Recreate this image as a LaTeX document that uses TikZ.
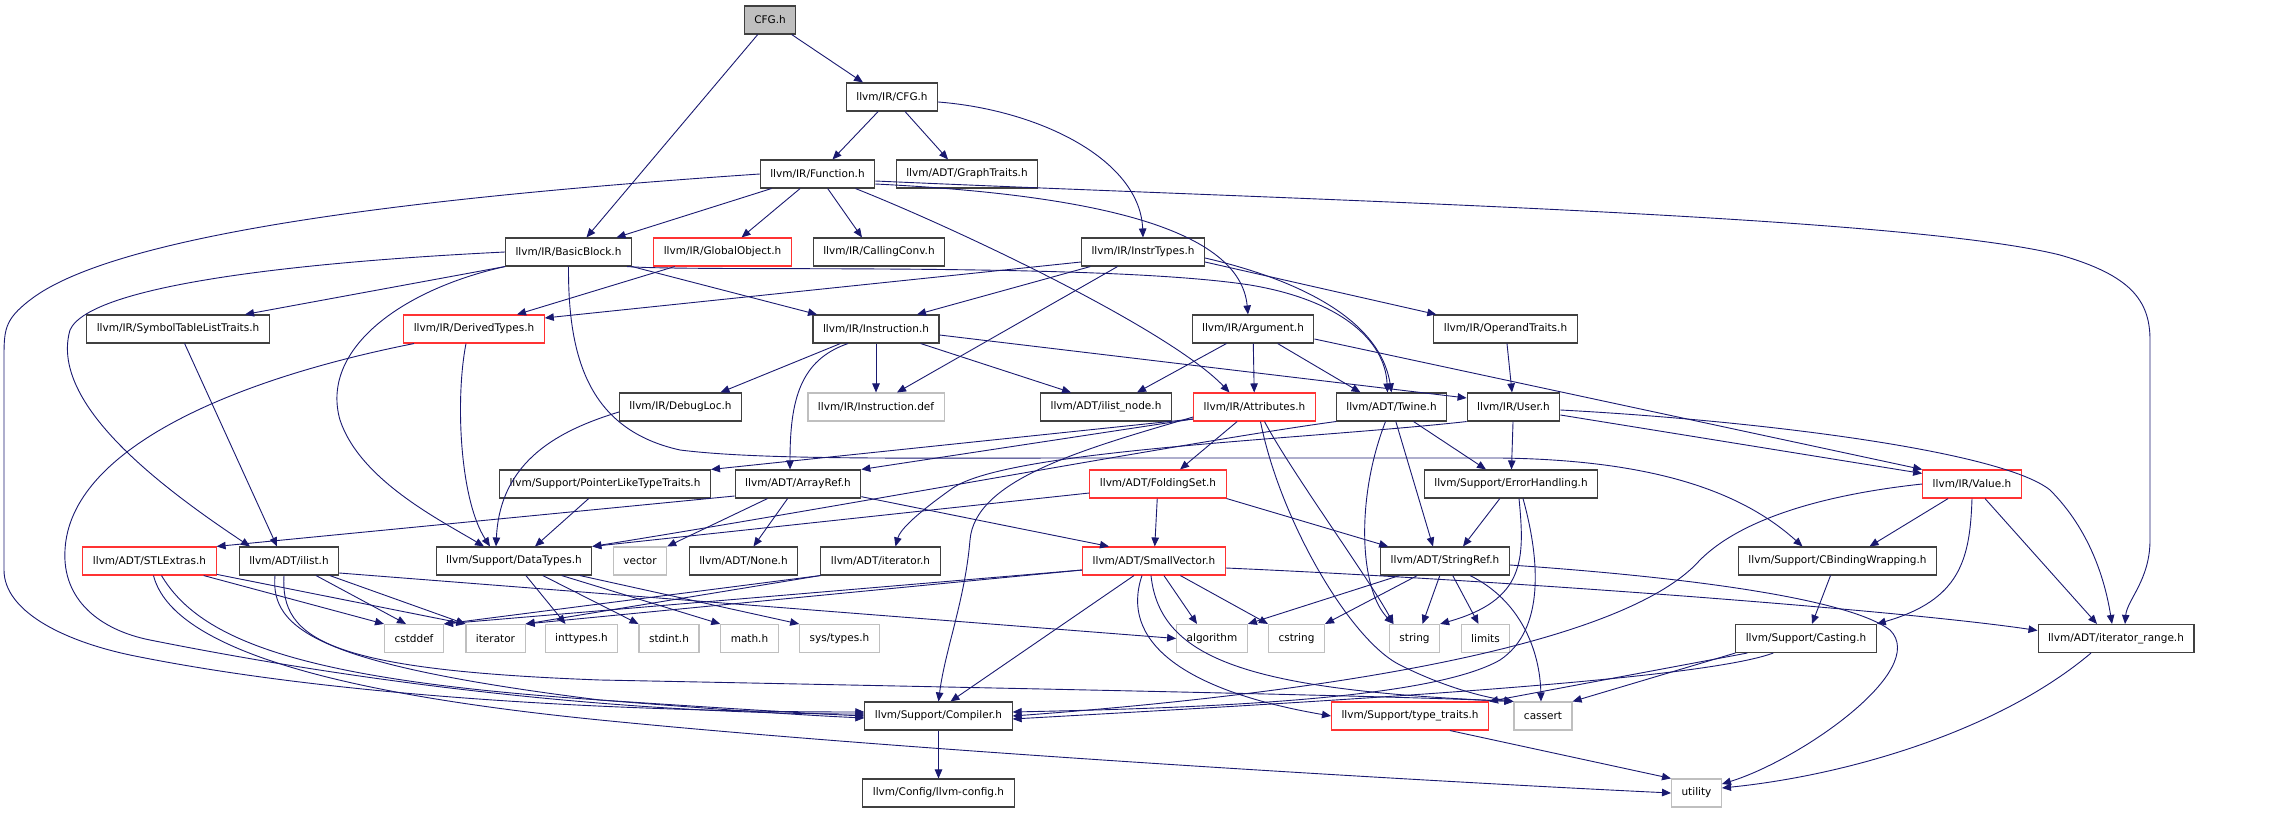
\documentclass[tikz,border=0pt]{standalone}
\usepackage{fontspec}
\setmainfont{DejaVu Sans}
\usetikzlibrary{arrows.meta}
\definecolor{edgeblue}{HTML}{191970}
\definecolor{framegray}{HTML}{404040}
\definecolor{framered}{HTML}{FF3333}
\definecolor{sysgray}{HTML}{BFBFBF}
\tikzstyle{header} = [
    rectangle,
    draw=framegray,
    line width=1.1pt,
    fill=white,
    minimum height=28pt,
    inner xsep=10pt,
    inner ysep=0pt,
    font=\fontsize{10.5}{12}\selectfont
]
\tikzstyle{truncated} = [header, draw=framered]
\tikzstyle{system} = [header, draw=sysgray]
\tikzstyle{root} = [header, fill=sysgray]
\tikzstyle{arrow} = [draw=edgeblue, line width=0.9pt, -{Triangle[length=9pt,width=7.5pt]}]

\begin{document}
\begin{tikzpicture}[x=1pt, y=-1pt]
\useasboundingbox (0,0) rectangle (2276,813);

\node (cfg) [root] at (770,20) {CFG.h};
\node (ircfg) [header] at (892,97) {llvm/IR/CFG.h};
\node (function) [header] at (817.5,174) {llvm/IR/Function.h};
\node (graphtraits) [header] at (967,174) {llvm/ADT/GraphTraits.h};
\node (basicblock) [header] at (568.5,252) {llvm/IR/BasicBlock.h};
\node (globalobject) [truncated] at (722.5,252) {llvm/IR/GlobalObject.h};
\node (callingconv) [header] at (879,252) {llvm/IR/CallingConv.h};
\node (instrtypes) [header] at (1143,252) {llvm/IR/InstrTypes.h};
\node (symtab) [header] at (178,329) {llvm/IR/SymbolTableListTraits.h};
\node (derivedtypes) [truncated] at (474,329) {llvm/IR/DerivedTypes.h};
\node (instruction) [header] at (876,329) {llvm/IR/Instruction.h};
\node (argument) [header] at (1253,329) {llvm/IR/Argument.h};
\node (operandtraits) [header] at (1505.5,329) {llvm/IR/OperandTraits.h};
\node (debugloc) [header] at (680.5,407) {llvm/IR/DebugLoc.h};
\node (instrdef) [system] at (876,407) {llvm/IR/Instruction.def};
\node (ilistnode) [header] at (1106,407) {llvm/ADT/ilist\_node.h};
\node (attributes) [truncated] at (1254.5,407) {llvm/IR/Attributes.h};
\node (twine) [header] at (1391.5,407) {llvm/ADT/Twine.h};
\node (user) [header] at (1513.5,407) {llvm/IR/User.h};
\node (pointerlike) [header] at (605,484) {llvm/Support/PointerLikeTypeTraits.h};
\node (arrayref) [header] at (798,484) {llvm/ADT/ArrayRef.h};
\node (foldingset) [truncated] at (1158,484) {llvm/ADT/FoldingSet.h};
\node (errorhandling) [header] at (1511,484) {llvm/Support/ErrorHandling.h};
\node (value) [truncated] at (1972,484) {llvm/IR/Value.h};
\node (stlextras) [truncated] at (149.5,561) {llvm/ADT/STLExtras.h};
\node (ilist) [header] at (289,561) {llvm/ADT/ilist.h};
\node (datatypes) [header] at (514,561) {llvm/Support/DataTypes.h};
\node (vectorstd) [system] at (640,561) {vector};
\node (nonehdr) [header] at (743.5,561) {llvm/ADT/None.h};
\node (iterator) [header] at (880.5,561) {llvm/ADT/iterator.h};
\node (smallvector) [truncated] at (1154,561) {llvm/ADT/SmallVector.h};
\node (stringref) [header] at (1445,561) {llvm/ADT/StringRef.h};
\node (cbinding) [header] at (1837.5,561) {llvm/Support/CBindingWrapping.h};
\node (cstddef) [system] at (414,638.5) {cstddef};
\node (iteratorstd) [system] at (495.5,638.5) {iterator};
\node (inttypes) [system] at (581.5,638.5) {inttypes.h};
\node (stdint) [system] at (669,638.5) {stdint.h};
\node (mathstd) [system] at (749.5,638.5) {math.h};
\node (systypes) [system] at (839.5,638.5) {sys/types.h};
\node (algorithm) [system] at (1212,638.5) {algorithm};
\node (cstring) [system] at (1296.5,638.5) {cstring};
\node (stringstd) [system] at (1414.5,638.5) {string};
\node (limits) [system] at (1485.5,638.5) {limits};
\node (casting) [header] at (1806,638.5) {llvm/Support/Casting.h};
\node (iterrange) [header] at (2116,638.5) {llvm/ADT/iterator\_range.h};
\node (compiler) [header] at (938.5,716) {llvm/Support/Compiler.h};
\node (typetraits) [truncated] at (1410,716) {llvm/Support/type\_traits.h};
\node (cassert) [system] at (1543,716) {cassert};
\node (llvmconfig) [header] at (938.5,793) {llvm/Config/llvm-config.h};
\node (utility) [system] at (1696.5,793) {utility};

\draw [arrow] (cfg) -- ([xshift=-29pt]ircfg.north);
\draw [arrow] (cfg) -- ([xshift=18pt]basicblock.north);

\draw [arrow] (ircfg) -- ([xshift=15pt]function.north);
\draw [arrow] (ircfg) -- ([xshift=-19pt]graphtraits.north);
\draw [arrow] ([yshift=-5pt]ircfg.east) .. controls (1040,110) and (1140,160) .. (instrtypes.north);

\draw [arrow] (function) -- ([xshift=48pt]basicblock.north);
\draw [arrow] (function) -- ([xshift=19pt]globalobject.north);
\draw [arrow] (function) -- ([xshift=-17pt]callingconv.north);
\draw [arrow] ([yshift=-10pt]function.east) .. controls (1100,195) and (1240,230) .. ([xshift=-5pt]argument.north);
\draw [arrow] ([xshift=38pt]function.south) .. controls (960,230) and (1170,330) .. ([xshift=-25pt]attributes.north);
\draw [arrow] ([yshift=-7pt]function.east) .. controls (1300,200) and (1900,215) .. (2060,255) .. controls (2130,275) and (2150,300) .. (2150,340) -- (2150,540) .. controls (2150,580) and (2127,600) .. ([xshift=9pt]iterrange.north);
\draw [arrow] (function.west) .. controls (450,195) and (120,230) .. (30,300) .. controls (4,320) and (4,330) .. (4,360) -- (4,570) .. controls (4,610) and (60,640) .. (130,655) .. controls (350,700) and (650,712) .. ([yshift=4pt]compiler.west);

\draw [arrow] (basicblock.south west) -- ([xshift=67pt]symtab.north);
\draw [arrow] (basicblock.south east) -- ([xshift=-59pt]instruction.north);
\draw [arrow] (basicblock.west) .. controls (300,262) and (90,285) .. (70,330) .. controls (50,400) and (150,480) .. ([xshift=-39pt]ilist.north);
\draw [arrow] (basicblock.south west) .. controls (400,290) and (320,350) .. (340,420) .. controls (360,480) and (440,520) .. ([xshift=-30pt]datatypes.north);
\draw [arrow] (basicblock.south) .. controls (568,360) and (590,430) .. (680,450) .. controls (760,460) and (900,458) .. (1100,458) -- (1500,458) .. controls (1650,460) and (1740,490) .. ([xshift=-35pt]cbinding.north);
\draw [arrow] ([xshift=-5pt]basicblock.south east) .. controls (700,272) and (1100,262) .. (1250,285) .. controls (1340,300) and (1385,340) .. ([xshift=-4pt]twine.north);

\draw [arrow] ([yshift=-10pt]instrtypes.west) -- ([yshift=11pt]derivedtypes.east);
\draw [arrow] (instrtypes) -- ([xshift=41pt]instruction.north);
\draw [arrow] (instrtypes) -- ([xshift=21pt]instrdef.north);
\draw [arrow] ([yshift=-10pt]instrtypes.east) -- ([xshift=3pt]operandtraits.north west);
\draw [arrow] ([yshift=-6pt]instrtypes.east) .. controls (1300,280) and (1380,320) .. (twine.north);

\draw [arrow] (globalobject) -- ([xshift=43pt]derivedtypes.north);

\draw [arrow] (instruction) -- ([xshift=40pt]debugloc.north);
\draw [arrow] (instruction) -- (instrdef);
\draw [arrow] (instruction) -- ([xshift=-35pt]ilistnode.north);
\draw [arrow] ([yshift=-6pt]instruction.east) -- ([yshift=9pt]user.west);
\draw [arrow] ([xshift=-28pt]instruction.south) .. controls (800,360) and (790,400) .. ([xshift=-8pt]arrayref.north);

\draw [arrow] (argument) -- ([xshift=31pt]ilistnode.north);
\draw [arrow] (argument) -- (attributes);
\draw [arrow] (argument) -- ([xshift=-31pt]twine.north);
\draw [arrow] ([yshift=-10pt]argument.east) -- (value.north west);

\draw [arrow] (operandtraits) -- (user);

\draw [arrow] ([xshift=-8pt]derivedtypes.south) .. controls (455,400) and (460,500) .. ([xshift=-24pt]datatypes.north);
\draw [arrow] ([xshift=-60pt]derivedtypes.south) .. controls (230,380) and (70,450) .. (65,550) .. controls (62,600) and (100,630) .. (150,640) .. controls (400,690) and (650,714) .. ([yshift=2pt]compiler.west);

\draw [arrow] (symtab) -- ([xshift=-12pt]ilist.north);

\draw [arrow] ([yshift=-5pt]debugloc.west) .. controls (560,430) and (500,460) .. ([xshift=-18pt]datatypes.north);

\draw [arrow] (attributes) -- ([xshift=22pt]foldingset.north);
\draw [arrow] ([yshift=-12pt]attributes.west) -- (pointerlike.north east);
\draw [arrow] ([yshift=-12pt]attributes.west) -- (arrayref.north east);
\draw [arrow] ([xshift=10pt]attributes.south) .. controls (1290,470) and (1370,580) .. ([xshift=-21pt]stringstd.north);
\draw [arrow] ([xshift=6pt]attributes.south) .. controls (1280,520) and (1350,640) .. (1400,665) .. controls (1450,690) and (1490,698) .. (cassert.north west);
\draw [arrow] ([yshift=-10pt]attributes.west) .. controls (1080,450) and (975,480) .. (970,540) .. controls (965,600) and (945,650) .. (compiler.north);

\draw [arrow] (twine) -- ([xshift=-12pt]stringref.north);
\draw [arrow] (twine) -- ([xshift=-25pt]errorhandling.north);
\draw [arrow] ([xshift=-6pt]twine.south) .. controls (1355,500) and (1360,590) .. ([xshift=-21pt]stringstd.north);
\draw [arrow] (twine.south west) .. controls (1200,440) and (850,505) .. (datatypes.north east);

\draw [arrow] (user) -- (errorhandling);
\draw [arrow] ([yshift=-8pt]user.east) -- ([yshift=-4pt]value.north west);
\draw [arrow] ([yshift=-3pt]user.east) .. controls (1750,420) and (2000,450) .. (2050,490) .. controls (2090,530) and (2105,580) .. ([xshift=-4pt]iterrange.north);
\draw [arrow] (user.south west) .. controls (1300,440) and (1000,450) .. (950,490) .. controls (915,515) and (900,530) .. ([xshift=15pt]iterator.north);

\draw [arrow] (foldingset) -- (smallvector);
\draw [arrow] (foldingset.south east) -- ([xshift=8pt]stringref.north west);
\draw [arrow] ([yshift=-9pt]foldingset.west) -- (datatypes.north east);

\draw [arrow] (pointerlike) -- ([xshift=21pt]datatypes.north);

\draw [arrow] (arrayref) -- (vectorstd.north east);
\draw [arrow] (arrayref) -- ([xshift=10pt]nonehdr.north);
\draw [arrow] (arrayref) -- ([xshift=-45pt]smallvector.north);
\draw [arrow] ([yshift=-12pt]arrayref.west) -- (stlextras.north east);

\draw [arrow] (errorhandling) -- ([xshift=18pt]stringref.north);
\draw [arrow] ([xshift=8pt]errorhandling.south) .. controls (1525,560) and (1525,600) .. (stringstd.north east);
\draw [arrow] ([xshift=12pt]errorhandling.south) .. controls (1540,560) and (1545,630) .. (1500,660) .. controls (1430,700) and (1200,708) .. ([yshift=4pt]compiler.east);

\draw [arrow] (value) -- ([xshift=32pt]cbinding.north);
\draw [arrow] (value.south) .. controls (1970,560) and (1960,600) .. (casting.north east);
\draw [arrow] (value) -- ([xshift=-19pt]iterrange.north);
\draw [arrow] (value.west) .. controls (1820,495) and (1740,520) .. (1700,560) .. controls (1620,650) and (1300,695) .. (compiler.east);

\draw [arrow] (stlextras) -- (cstddef.north west);
\draw [arrow] (stlextras) -- (iteratorstd.north west);
\draw [arrow] ([xshift=12pt]stlextras.south) .. controls (200,640) and (300,680) .. (600,700) .. controls (750,710) and (820,714) .. (compiler.west);
\draw [arrow] ([xshift=4pt]stlextras.south) .. controls (170,640) and (300,690) .. (600,720) .. controls (900,750) and (1400,780) .. (utility.west);

\draw [arrow] (ilist) -- ([xshift=-8pt]cstddef.north);
\draw [arrow] (ilist) -- (iteratorstd.north west);
\draw [arrow] ([xshift=-14pt]ilist.south) .. controls (270,630) and (320,665) .. (600,700) .. controls (750,712) and (820,716) .. ([yshift=-2pt]compiler.west);
\draw [arrow] ([xshift=-5pt]ilist.south) .. controls (280,640) and (330,670) .. (600,680) .. controls (1000,688) and (1400,696) .. (cassert.north west);
\draw [arrow] ([yshift=-12pt]ilist.east) -- (algorithm.west);

\draw [arrow] (datatypes) -- ([xshift=-16pt]inttypes.north);
\draw [arrow] (datatypes) -- (stdint.north west);
\draw [arrow] (datatypes) -- (mathstd.north west);
\draw [arrow] (datatypes) -- (systypes.north west);

\draw [arrow] (iterator.south west) -- (cstddef.north east);
\draw [arrow] (iterator.south west) -- (iteratorstd.north east);

\draw [arrow] ([yshift=-9pt]smallvector.west) -- (cstddef.north east);
\draw [arrow] ([yshift=-9pt]smallvector.west) -- (iteratorstd.north east);
\draw [arrow] (smallvector) -- ([xshift=-15pt]algorithm.north);
\draw [arrow] (smallvector) -- (cstring.north west);
\draw [arrow] ([xshift=-20pt]smallvector.south) -- ([xshift=12pt]compiler.north);
\draw [arrow] ([xshift=-12pt]smallvector.south) .. controls (1120,640) and (1180,690) .. (typetraits.west);
\draw [arrow] ([xshift=-3pt]smallvector.south) .. controls (1160,660) and (1250,690) .. (cassert.north west);
\draw [arrow] ([yshift=-7pt]smallvector.east) .. controls (1500,580) and (1900,610) .. ([yshift=8pt]iterrange.west);

\draw [arrow] (stringref) -- (algorithm.north east);
\draw [arrow] (stringref) -- (cstring.north east);
\draw [arrow] (stringref) -- ([xshift=8pt]stringstd.north);
\draw [arrow] (stringref) -- ([xshift=-7pt]limits.north);
\draw [arrow] ([xshift=25pt]stringref.south) .. controls (1520,600) and (1540,650) .. ([xshift=-2pt]cassert.north);
\draw [arrow] ([yshift=-4pt]stringref.east) .. controls (1700,578) and (1850,600) .. (1890,630) .. controls (1930,670) and (1800,760) .. ([yshift=9pt]utility.east);

\draw [arrow] ([xshift=-7pt]cbinding.south) -- ([xshift=6pt]casting.north);

\draw [arrow] (casting.south west) -- (cassert.north east);
\draw [arrow] ([xshift=12pt]casting.south west) -- (typetraits.north east);
\draw [arrow] ([xshift=38pt]casting.south west) .. controls (1700,680) and (1350,700) .. ([yshift=-3pt]compiler.east);

\draw [arrow] (compiler) -- (llvmconfig);
\draw [arrow] ([xshift=40pt]typetraits.south) -- (utility.north west);
\draw [arrow] ([xshift=-25pt]iterrange.south) .. controls (2000,730) and (1850,775) .. ([yshift=5pt]utility.east);

\end{tikzpicture}
\end{document}
